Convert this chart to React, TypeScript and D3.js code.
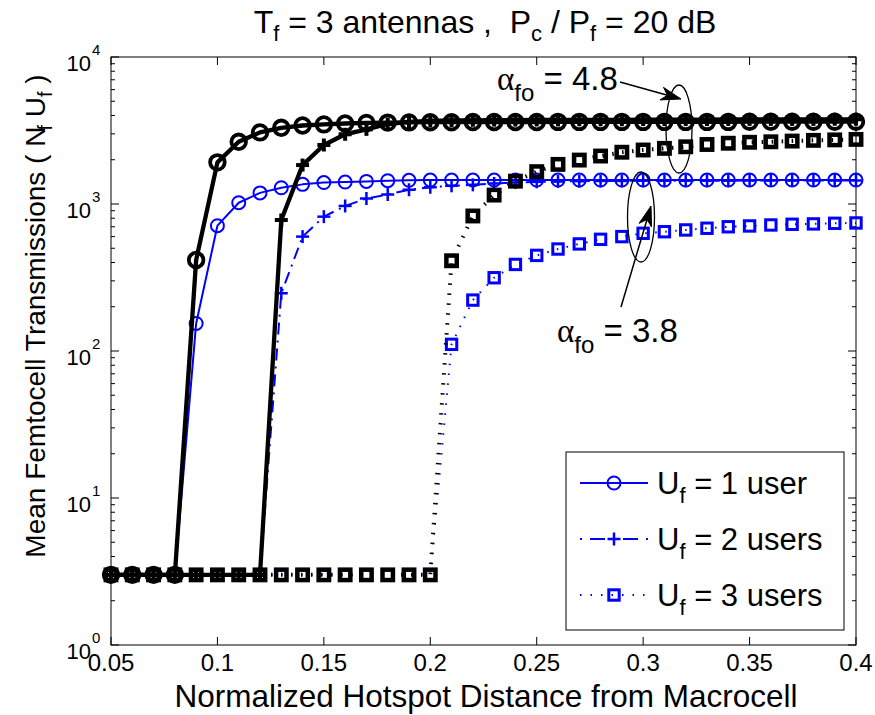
import React from 'react';
import * as d3 from 'd3';

const xValues = [0.05, 0.06, 0.07, 0.08, 0.09, 0.10, 0.11, 0.12, 0.13, 0.14, 0.15, 0.16, 0.17, 0.18, 0.19, 0.20, 0.21, 0.22, 0.23, 0.24, 0.25, 0.26, 0.27, 0.28, 0.29, 0.30, 0.31, 0.32, 0.33, 0.34, 0.35, 0.36, 0.37, 0.38, 0.39, 0.40];

// alpha_fo = 3.8 (blue)
const blueU1 = [3, 3, 3, 3, 154, 712, 1020, 1190, 1290, 1360, 1400, 1410, 1425, 1440, 1450, 1455, 1455, 1455, 1455, 1455, 1455, 1455, 1455, 1455, 1455, 1455, 1455, 1455, 1455, 1455, 1455, 1455, 1455, 1455, 1455, 1455];
const blueU2 = [3, 3, 3, 3, 3, 3, 3, 3, 247, 600, 820, 970, 1090, 1160, 1250, 1300, 1330, 1350, 1380, 1400, 1415, 1425, 1430, 1435, 1435, 1440, 1440, 1440, 1440, 1440, 1445, 1445, 1445, 1445, 1445, 1445];
const blueU3 = [3, 3, 3, 3, 3, 3, 3, 3, 3, 3, 3, 3, 3, 3, 3, 3, 111, 222, 315, 388, 447, 494, 535, 575, 600, 632, 648, 666, 684, 700, 709, 720, 728, 732, 739, 743];

// alpha_fo = 4.8 (black)
const blackU1 = [3, 3, 3, 3, 416, 1920, 2650, 3070, 3300, 3420, 3480, 3530, 3560, 3580, 3590, 3600, 3600, 3610, 3610, 3610, 3610, 3620, 3620, 3620, 3620, 3620, 3620, 3620, 3620, 3620, 3630, 3630, 3630, 3630, 3630, 3630];
const blackU2 = [3, 3, 3, 3, 3, 3, 3, 3, 778, 1840, 2520, 2980, 3220, 3500, 3620, 3680, 3700, 3710, 3720, 3720, 3730, 3730, 3740, 3740, 3740, 3750, 3750, 3750, 3750, 3760, 3760, 3760, 3760, 3760, 3770, 3770];
const blackU3 = [3, 3, 3, 3, 3, 3, 3, 3, 3, 3, 3, 3, 3, 3, 3, 3, 411, 829, 1150, 1430, 1660, 1860, 1990, 2120, 2250, 2330, 2390, 2450, 2540, 2590, 2630, 2650, 2680, 2710, 2730, 2750];

const xTicks = [0.05, 0.1, 0.15, 0.2, 0.25, 0.3, 0.35, 0.4];
const xTickLabels = ['0.05', '0.1', '0.15', '0.2', '0.25', '0.3', '0.35', '0.4'];
const yExponents = [0, 1, 2, 3, 4];
const legendLabels = ['1 user', '2 users', '3 users'];

const BLUE = '#0000ff';
const BLACK = '#000000';

type Marker = 'circle' | 'plus' | 'square';

function MarkerShape({ type, cx, cy, color, sw, size }: { type: Marker; cx: number; cy: number; color: string; sw: number; size: number }) {
  if (type === 'circle') return <circle cx={cx} cy={cy} r={size} fill="none" stroke={color} strokeWidth={sw} />;
  if (type === 'square') return <rect x={cx - size} y={cy - size} width={size * 2} height={size * 2} fill="none" stroke={color} strokeWidth={sw} />;
  return (
    <g stroke={color} strokeWidth={sw}>
      <line x1={cx - size} x2={cx + size} y1={cy} y2={cy} />
      <line x1={cx} x2={cx} y1={cy - size} y2={cy + size} />
    </g>
  );
}

export default function App() {
  const W = 875, H = 715;
  const L = 111, R = 856, T = 57, B = 645;
  const xs = d3.scaleLinear().domain([0.05, 0.4]).range([L, R]);
  const ys = d3.scaleLog().domain([1, 1e4]).range([B, T]);
  const lineGen = d3.line<number>().x((_, i) => xs(xValues[i])).y((d) => ys(d));

  const series = [
    { data: blueU1, color: BLUE, width: 2, dash: undefined, marker: 'circle' as Marker, msw: 2, ms: 6.5 },
    { data: blueU2, color: BLUE, width: 2, dash: '12,6,2,6', marker: 'plus' as Marker, msw: 2.5, ms: 6.5 },
    { data: blueU3, color: BLUE, width: 2, dash: '1.5,8.5', marker: 'square' as Marker, msw: 3, ms: 5.2 },
    { data: blackU3, color: BLACK, width: 4, dash: '1.5,8.5', marker: 'square' as Marker, msw: 4.5, ms: 5.2 },
    { data: blackU2, color: BLACK, width: 4.3, dash: undefined, marker: 'plus' as Marker, msw: 4, ms: 6.5 },
    { data: blackU1, color: BLACK, width: 4.3, dash: undefined, marker: 'circle' as Marker, msw: 3.8, ms: 7.3 },
  ];

  const minorTicks: number[] = [];
  for (let e = 0; e < 4; e++) for (let m = 2; m <= 9; m++) minorTicks.push(m * Math.pow(10, e));

  const font = 'Liberation Sans, Arial, Helvetica, sans-serif';
  const serif = 'Liberation Serif, Times New Roman, serif';

  const arrow = (x1: number, y1: number, x2: number, y2: number) => {
    const dx = x2 - x1, dy = y2 - y1;
    const len = Math.hypot(dx, dy);
    const ux = dx / len, uy = dy / len;
    const px = -uy, py = ux;
    const hl = 20, hw = 6.5, ind = 14;
    const bx = x2 - hl * ux, by = y2 - hl * uy;
    const ix = x2 - ind * ux, iy = y2 - ind * uy;
    const pts = `${x2},${y2} ${bx + hw * px},${by + hw * py} ${ix},${iy} ${bx - hw * px},${by - hw * py}`;
    return (
      <g>
        <line x1={x1} y1={y1} x2={ix} y2={iy} stroke="#000" strokeWidth={1.5} />
        <polygon points={pts} fill="#000" stroke="#000" strokeWidth={1} />
      </g>
    );
  };

  const legendY = [483, 539, 595];
  const legendMarkers: Marker[] = ['circle', 'plus', 'square'];
  const legendDash = [undefined, '2,8,15,18,15,8,2', '1.5,9'];

  return (
    <svg width={W} height={H} style={{ position: 'absolute', left: 0, top: 0, background: '#fff' }} fontFamily={font}>
      <rect x={0} y={0} width={W} height={H} fill="#fff" />
      {/* Title */}
      <text x={485} y={33} textAnchor="middle" fontSize={32} fill="#000" style={{ whiteSpace: 'pre' }}>
        <tspan>T</tspan>
        <tspan fontSize={22} dy={8}>f</tspan>
        <tspan dy={-8}>{' = 3 antennas ,  P'}</tspan>
        <tspan fontSize={22} dy={8}>c</tspan>
        <tspan dy={-8}>{' / P'}</tspan>
        <tspan fontSize={22} dy={8}>f</tspan>
        <tspan dy={-8}>{' = 20 dB'}</tspan>
      </text>

      {/* axes box */}
      <rect x={L} y={T} width={R - L} height={B - T} fill="none" stroke="#000" strokeWidth={1} />

      {/* x ticks */}
      {xTicks.map((t, i) => (
        <g key={'xt' + i}>
          <line x1={xs(t)} x2={xs(t)} y1={B} y2={B - 8} stroke="#000" />
          <line x1={xs(t)} x2={xs(t)} y1={T} y2={T + 8} stroke="#000" />
          <text x={xs(t)} y={671} textAnchor="middle" fontSize={24}>{xTickLabels[i]}</text>
        </g>
      ))}

      {/* y ticks */}
      {yExponents.map((e) => (
        <g key={'yt' + e}>
          <line x1={L} x2={L + 8} y1={ys(Math.pow(10, e))} y2={ys(Math.pow(10, e))} stroke="#000" />
          <line x1={R} x2={R - 8} y1={ys(Math.pow(10, e))} y2={ys(Math.pow(10, e))} stroke="#000" />
          <text x={91} y={ys(Math.pow(10, e)) + 14} textAnchor="end" fontSize={22}>10</text>
          <text x={92} y={ys(Math.pow(10, e)) - 2} textAnchor="start" fontSize={15}>{e}</text>
        </g>
      ))}
      {minorTicks.map((v, i) => (
        <g key={'mt' + i}>
          <line x1={L} x2={L + 4} y1={ys(v)} y2={ys(v)} stroke="#000" />
          <line x1={R} x2={R - 4} y1={ys(v)} y2={ys(v)} stroke="#000" />
        </g>
      ))}

      {/* axis labels */}
      <text x={486} y={707} textAnchor="middle" fontSize={31.5}>Normalized Hotspot Distance from Macrocell</text>
      <text transform={`translate(45, 316) rotate(-90)`} textAnchor="middle" fontSize={28} style={{ whiteSpace: 'pre' }}>
        <tspan>{'Mean Femtocell Transmissions ( N'}</tspan>
        <tspan fontSize={20} dy={7} dx={-4}>f</tspan>
        <tspan dy={-7}>{' U'}</tspan>
        <tspan fontSize={20} dy={7}>f</tspan>
        <tspan dy={-7}>{' )'}</tspan>
      </text>

      {/* series */}
      {series.map((s, si) => (
        <g key={'s' + si}>
          <path d={lineGen(s.data) || ''} fill="none" stroke={s.color} strokeWidth={s.width} strokeDasharray={s.dash} strokeLinejoin="round" />
          {s.data.map((v, i) => (
            <MarkerShape key={i} type={s.marker} cx={xs(xValues[i])} cy={ys(v)} color={s.color} sw={s.msw} size={s.ms} />
          ))}
        </g>
      ))}

      {/* annotations */}
      <ellipse cx={679} cy={129} rx={13} ry={44} fill="none" stroke="#000" strokeWidth={1.3} />
      <ellipse cx={641} cy={217} rx={13.5} ry={45} fill="none" stroke="#000" strokeWidth={1.3} />
      {arrow(620, 82, 681, 99)}
      {arrow(621, 307, 651, 206)}
      <text x={497} y={90} fontSize={33} style={{ whiteSpace: 'pre' }}>
        <tspan fontFamily={serif}>α</tspan>
        <tspan fontSize={24} dy={11}>fo</tspan>
        <tspan dy={-11}>{' = 4.8'}</tspan>
      </text>
      <text x={557} y={342} fontSize={33} style={{ whiteSpace: 'pre' }}>
        <tspan fontFamily={serif}>α</tspan>
        <tspan fontSize={24} dy={11}>fo</tspan>
        <tspan dy={-11}>{' = 3.8'}</tspan>
      </text>

      {/* legend */}
      <rect x={566} y={452} width={278} height={178} fill="#fff" stroke="#000" strokeWidth={1} />
      {legendLabels.map((lab, i) => (
        <g key={'lg' + i}>
          <line x1={580} x2={648} y1={legendY[i]} y2={legendY[i]} stroke={BLUE} strokeWidth={2} strokeDasharray={legendDash[i]} />
          <MarkerShape type={legendMarkers[i]} cx={614} cy={legendY[i]} color={BLUE} sw={series[i].msw} size={series[i].ms} />
          <text x={657} y={legendY[i] + 11} fontSize={31} style={{ whiteSpace: 'pre' }}>
            <tspan>U</tspan>
            <tspan fontSize={22} dy={9}>f</tspan>
            <tspan dy={-9}>{' = ' + lab}</tspan>
          </text>
        </g>
      ))}
    </svg>
  );
}
